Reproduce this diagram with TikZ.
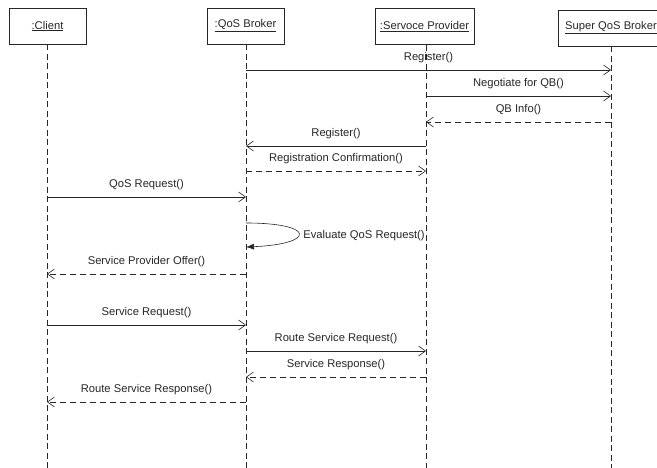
\documentclass[tikz,border=0pt]{standalone}
\usepackage{fontspec}
\setmainfont{Liberation Sans}
\usetikzlibrary{arrows.meta}

\begin{document}
\begin{tikzpicture}[x = 1pt, y = -1pt, font = \fontsize{11.2}{13}\selectfont, color = black!85, line width = 0.6pt]
	\tikzstyle{objStyle} = [draw, minimum width = 77pt, minimum height = 36pt, inner sep = 0pt]
	\tikzstyle{lifeStyle} = [dash pattern = on 6pt off 3.5pt]
	\tikzstyle{callStyle} = [-{Straight Barb[length = 7pt, width = 10pt]}]
	\tikzstyle{replyStyle} = [callStyle, dash pattern = on 6pt off 4pt]
	\tikzstyle{selfStyle} = [-{Latex[length = 8pt, width = 6pt]}]
	\tikzstyle{labelStyle} = [above = 5pt, inner sep = 1.5pt]
	\useasboundingbox (0, 0) rectangle (657, 468);
	% objects
	\node[objStyle] (client) at (47.5, 26) {\underline{:Client}};
	\node[objStyle] (broker) at (245.5, 26) {\underline{:QoS Broker}};
	\node[objStyle, minimum width = 99pt] (provider) at (424.5, 26.5) {\underline{:Servoce Provider}};
	\node[objStyle, minimum width = 106pt] (super) at (611, 28) {\underline{Super QoS Broker}};
	% lifelines
	\coordinate (clientEnd) at (47, 468);
	\coordinate (brokerEnd) at (246, 468);
	\coordinate (providerEnd) at (426, 468);
	\coordinate (superEnd) at (611, 468);
	\draw[lifeStyle] (client.south -| clientEnd) -- (clientEnd);
	\draw[lifeStyle] (broker.south -| brokerEnd) -- (brokerEnd);
	\draw[lifeStyle] (provider.south -| providerEnd) -- (providerEnd);
	\draw[lifeStyle] (super.south -| superEnd) -- (superEnd);
	% message ends
	\coordinate (qb1) at (246, 70);  \coordinate (sq1) at (611, 70);
	\coordinate (sp2) at (426, 96);  \coordinate (sq2) at (611, 96);
	\coordinate (sq3) at (611, 122); \coordinate (sp3) at (426, 122);
	\coordinate (sp4) at (426, 146); \coordinate (qb4) at (246, 146);
	\coordinate (qb5) at (246, 171); \coordinate (sp5) at (426, 171);
	\coordinate (cl6) at (47, 197);  \coordinate (qb6) at (246, 197);
	\coordinate (qb7) at (246, 223); \coordinate (qb7e) at (246, 247);
	\coordinate (qb8) at (246, 274); \coordinate (cl8) at (47, 274);
	\coordinate (cl9) at (47, 325);  \coordinate (qb9) at (246, 325);
	\coordinate (qb10) at (246, 351); \coordinate (sp10) at (426, 351);
	\coordinate (sp11) at (426, 377); \coordinate (qb11) at (246, 377);
	\coordinate (qb12) at (246, 402); \coordinate (cl12) at (47, 402);
	% messages
	\draw[callStyle] (qb1) -- node[labelStyle] {Register()} (sq1);
	\draw[callStyle] (sp2) -- node[labelStyle] {Negotiate for QB()} (sq2);
	\draw[replyStyle] (sq3) -- node[labelStyle] {QB Info()} (sp3);
	\draw[callStyle] (sp4) -- node[labelStyle] {Register()} (qb4);
	\draw[replyStyle] (qb5) -- node[labelStyle] {Registration Confirmation()} (sp5);
	\draw[callStyle] (cl6) -- node[labelStyle] {QoS Request()} (qb6);
	\draw[selfStyle] (qb7) .. controls (316, 223) and (316, 244) .. (qb7e);
	\node[anchor = west, inner sep = 0pt] (evalLabel) at (303, 236) {Evaluate QoS Request()};
	\draw[replyStyle] (qb8) -- node[labelStyle] {Service Provider Offer()} (cl8);
	\draw[callStyle] (cl9) -- node[labelStyle] {Service Request()} (qb9);
	\draw[callStyle] (qb10) -- node[labelStyle] {Route Service Request()} (sp10);
	\draw[replyStyle] (sp11) -- node[labelStyle] {Service Response()} (qb11);
	\draw[replyStyle] (qb12) -- node[labelStyle] {Route Service Response()} (cl12);
\end{tikzpicture}
\end{document}
